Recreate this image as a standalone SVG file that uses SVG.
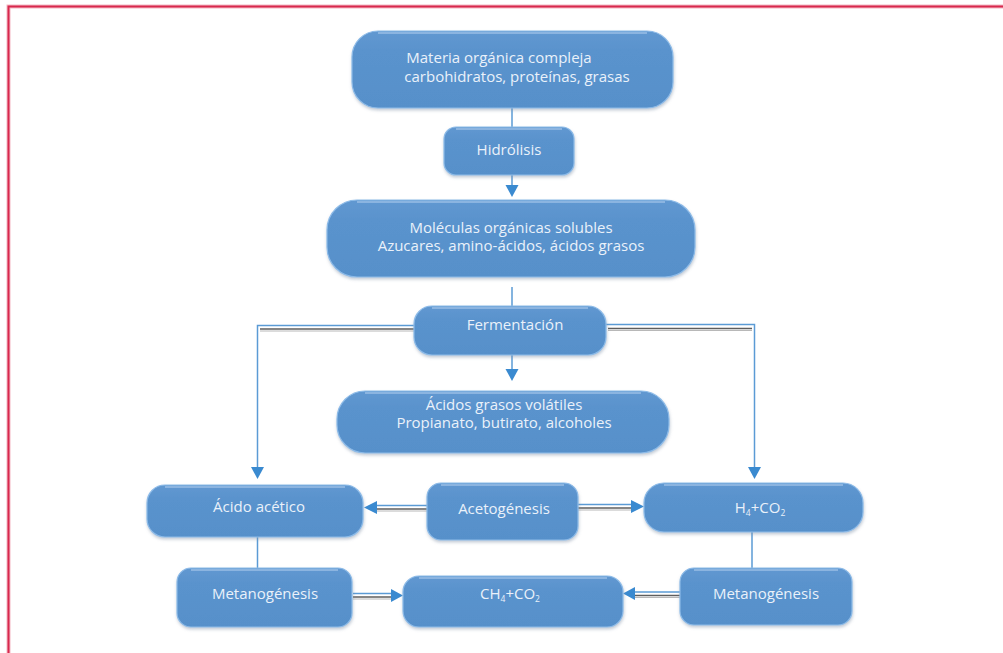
<svg xmlns="http://www.w3.org/2000/svg" width="1003" height="653" viewBox="0 0 1003 653">
  <style>
    .box { fill: url(#boxFill); stroke: #8dbbe8; stroke-width: 1.2; filter: url(#shade); }
    .hl { fill: none; stroke: #a9c9ec; stroke-width: 1.6; opacity: 0.8; }
    .lbl { font-family: "Open Sans", "Liberation Sans", sans-serif; font-size: 15px; fill: #eaf1fa; text-anchor: middle; }
    .sub { font-size: 8.5px; }
    .wire { fill: none; stroke: #5b9bd5; stroke-width: 1.5; }
    .wireDark { fill: none; stroke: #5e5e5e; stroke-width: 1.6; }
    .wireSoft { fill: none; stroke: #b8b8b8; stroke-width: 1; }
    .tip { fill: #3a8ad0; }
  </style>
  <defs>
    <linearGradient id="boxFill" x1="0" y1="0" x2="0" y2="1">
      <stop offset="0" stop-color="#6198d1"/>
      <stop offset="0.25" stop-color="#5a93cd"/>
      <stop offset="1" stop-color="#5790ca"/>
    </linearGradient>
    <filter id="shade" x="-10%" y="-20%" width="120%" height="150%">
      <feDropShadow dx="0.5" dy="2" stdDeviation="1.4" flood-color="#7a8ea5" flood-opacity="0.45"/>
    </filter>
  </defs>

  <rect x="0" y="0" width="1003" height="653" fill="#ffffff"/>

  <!-- page frame -->
  <path d="M8.5 653 V6.5 H1003" fill="none" stroke="#f3b8c4" stroke-width="4"/>
  <path d="M8.5 653 V6.5 H1003" fill="none" stroke="#d8284d" stroke-width="2"/>

  <!-- connectors -->
  <g id="connectors">
    <!-- trunk -->
    <line class="wire" x1="512" y1="108" x2="512" y2="127"/>
    <line class="wire" x1="512" y1="175" x2="512" y2="186"/>
    <polygon class="tip" points="505.5,185 518.5,185 512,197"/>
    <line class="wire" x1="512" y1="287" x2="512" y2="306"/>
    <line class="wire" x1="512" y1="355" x2="512" y2="370"/>
    <polygon class="tip" points="505.5,369 518.5,369 512,381"/>

    <!-- left branch to acetic acid -->
    <path class="wire" d="M415 325.5 H257.5 V468"/>
    <path class="wireDark" d="M415 329 H260"/>
    <path class="wireSoft" d="M415 331 H260"/>
    <polygon class="tip" points="251,467 264,467 257.5,479"/>

    <!-- right branch to H4+CO2 -->
    <path class="wire" d="M606 324.5 H754.5 V468"/>
    <path class="wireDark" d="M608 328.5 H752"/>
    <path class="wireSoft" d="M608 330.5 H752"/>
    <polygon class="tip" points="748,467 761,467 754.5,479"/>

    <!-- acetogenesis to acetic acid -->
    <path class="wire" d="M428 505.5 H375"/>
    <path class="wireDark" d="M428 509 H375"/>
    <path class="wireSoft" d="M428 511 H375"/>
    <polygon class="tip" points="364,507.5 377,501 377,514"/>

    <!-- acetogenesis to H4+CO2 -->
    <path class="wire" d="M578 504.5 H632"/>
    <path class="wireDark" d="M578 508 H632"/>
    <path class="wireSoft" d="M578 510 H632"/>
    <polygon class="tip" points="644,506.5 631,500 631,513"/>

    <!-- down to methanogenesis -->
    <line class="wire" x1="257.5" y1="537" x2="257.5" y2="569"/>
    <line class="wire" x1="752" y1="532" x2="752" y2="569"/>

    <!-- methanogenesis (left) to CH4+CO2 -->
    <path class="wire" d="M353 593.5 H392"/>
    <path class="wireDark" d="M353 597 H392"/>
    <path class="wireSoft" d="M353 599 H392"/>
    <polygon class="tip" points="403,595.5 391,589 391,602"/>

    <!-- methanogenesis (right) to CH4+CO2 -->
    <path class="wire" d="M681 592 H635"/>
    <path class="wireDark" d="M681 595.5 H635"/>
    <path class="wireSoft" d="M681 597.5 H635"/>
    <polygon class="tip" points="623,593.5 635,587 635,600"/>
  </g>

  <!-- nodes -->
  <g id="materia">
    <rect class="box" x="352" y="31" width="321" height="77" rx="26"/>
    <path class="hl" d="M378 33 H647"/>
    <text class="lbl" x="499" y="63">Materia orgánica compleja</text>
    <text class="lbl" x="517" y="82">carbohidratos, proteínas, grasas</text>
  </g>

  <g id="hidrolisis">
    <rect class="box" x="444" y="127" width="130" height="48" rx="12"/>
    <path class="hl" d="M456 129 H562"/>
    <text class="lbl" x="509" y="155">Hidrólisis</text>
  </g>

  <g id="moleculas">
    <rect class="box" x="327" y="200" width="368" height="77" rx="30"/>
    <path class="hl" d="M357 202 H665"/>
    <text class="lbl" x="511" y="233">Moléculas orgánicas solubles</text>
    <text class="lbl" x="511" y="251">Azucares, amino-ácidos, ácidos grasos</text>
  </g>

  <g id="fermentacion">
    <rect class="box" x="414" y="306" width="192" height="49" rx="18"/>
    <path class="hl" d="M432 308 H588"/>
    <text class="lbl" x="515" y="330">Fermentación</text>
  </g>

  <g id="acidos-volatiles">
    <rect class="box" x="337" y="391" width="332" height="62" rx="28"/>
    <path class="hl" d="M365 393 H641"/>
    <text class="lbl" x="504" y="410">Ácidos grasos volátiles</text>
    <text class="lbl" x="504" y="428">Propianato, butirato, alcoholes</text>
  </g>

  <g id="acido-acetico">
    <rect class="box" x="147" y="485" width="216" height="52" rx="18"/>
    <path class="hl" d="M165 487 H345"/>
    <text class="lbl" x="259" y="512">Ácido acético</text>
  </g>

  <g id="acetogenesis">
    <rect class="box" x="427" y="483" width="151" height="57" rx="14"/>
    <path class="hl" d="M441 485 H564"/>
    <text class="lbl" x="504" y="514">Acetogénesis</text>
  </g>

  <g id="h4-co2">
    <rect class="box" x="644" y="483" width="219" height="49" rx="20"/>
    <path class="hl" d="M664 485 H843"/>
    <text class="lbl" x="760" y="513">H<tspan class="sub" dy="3">4</tspan><tspan dy="-3">+CO</tspan><tspan class="sub" dy="3">2</tspan></text>
  </g>

  <g id="metanogenesis-izq">
    <rect class="box" x="177" y="568" width="175" height="59" rx="14"/>
    <path class="hl" d="M191 570 H338"/>
    <text class="lbl" x="265" y="599">Metanogénesis</text>
  </g>

  <g id="ch4-co2">
    <rect class="box" x="403" y="576" width="220" height="51" rx="16"/>
    <path class="hl" d="M419 578 H607"/>
    <text class="lbl" x="510" y="599">CH<tspan class="sub" dy="3">4</tspan><tspan dy="-3">+CO</tspan><tspan class="sub" dy="3">2</tspan></text>
  </g>

  <g id="metanogenesis-der">
    <rect class="box" x="680" y="568" width="172" height="57" rx="14"/>
    <path class="hl" d="M694 570 H838"/>
    <text class="lbl" x="766" y="599">Metanogénesis</text>
  </g>
</svg>
